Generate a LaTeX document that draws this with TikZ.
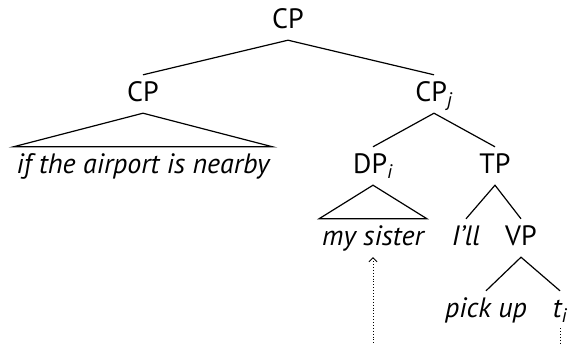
\documentclass[tikz,border=0pt]{standalone}
\usepackage{fontspec}
\setmainfont{PT Sans}
\usetikzlibrary{arrows.meta}
\begin{document}
\begin{tikzpicture}[x=1pt,y=-1pt,
  every node/.style={font=\fontsize{28}{32}\selectfont},
  lbl/.style={inner xsep=3pt, inner ysep=0pt, text height=21pt, text depth=7pt, minimum height=38pt},
  branch/.style={line width=1.2pt},
  trace/.style={line width=0.9pt, dotted}]
\useasboundingbox (0,0) rectangle (568,343);
% row 1
\node[lbl] (cp0) at (288,21) {CP};
% row 2
\node[lbl] (cp1) at (143,94) {CP};
\node[lbl] (cpj) at (434,94) {CP$_{\mathit{j}}$};
% row 3
\node[lbl] (cond) at (143,166) {\itshape if the airport is nearby};
\node[lbl] (dp) at (373,166) {DP$_{\mathit{i}}$};
\node[lbl] (tp) at (495,166) {TP};
% row 4
\node[lbl] (sis) at (373,238) {\itshape my sister};
\node[lbl] (ill) at (466,238) {\itshape I’ll};
\node[lbl] (vp) at (521,238) {VP};
% row 5
\node[lbl] (pick) at (486,310) {\itshape pick up};
\node[lbl] (ti) at (560,310) {\itshape t$_{\mathit{i}}$};
% branches
\draw[branch] (cp1.north) -- (cp0.south) -- (cpj.north);
\draw[branch] (cond.north west) -- (cp1.south) -- (cond.north east) -- cycle;
\draw[branch] (dp.north) -- (cpj.south) -- (tp.north);
\draw[branch] (sis.north west) -- (dp.south) -- (sis.north east) -- cycle;
\draw[branch] (ill.north) -- (tp.south) -- (vp.north);
\draw[branch] (pick.north) -- (vp.south) -- (ti.north);
% movement traces
\coordinate (sisend) at (373,343);
\coordinate (tiend) at (560,343);
\draw[trace, {Straight Barb[length=4pt,width=8pt,line width=0.9pt]}-] (sis.south) -- (sisend);
\draw[trace] ([yshift=1pt]ti.south) -- (tiend);
\end{tikzpicture}
\end{document}
